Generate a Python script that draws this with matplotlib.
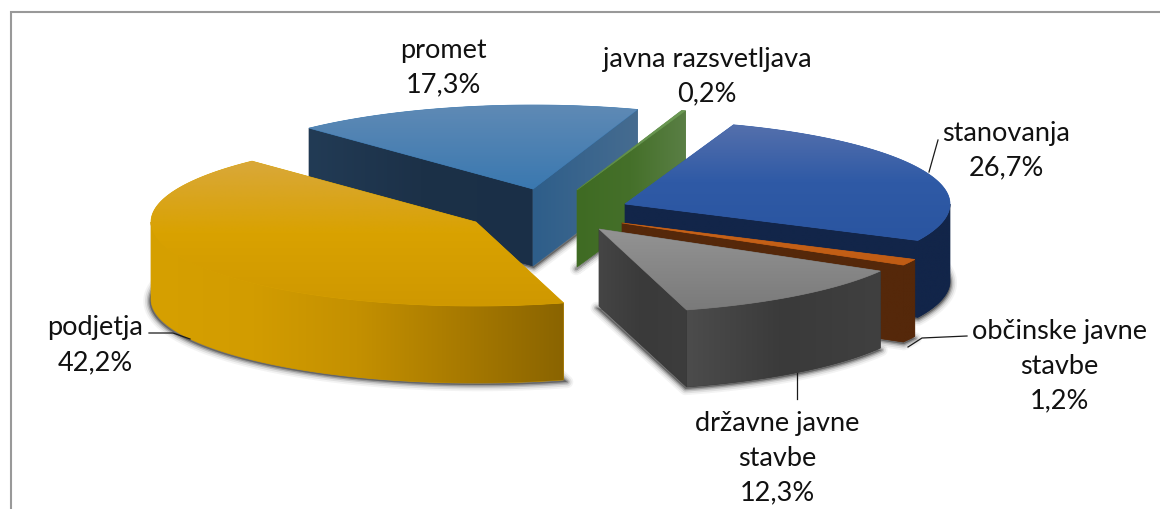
import numpy as np
import matplotlib
matplotlib.use("Agg")
import matplotlib.pyplot as plt
from matplotlib.colors import LinearSegmentedColormap
from matplotlib.patches import Polygon

# ---- data (clockwise order, as in the chart) ----
categories = ["stanovanja", "občinske javne stavbe", "državne javne stavbe",
              "podjetja", "promet", "javna razsvetljava"]
values = [26.7, 1.2, 12.3, 42.2, 17.3, 0.2]
label_lines = [["stanovanja", "26,7%"],
               ["občinske javne", "stavbe", "1,2%"],
               ["državne javne", "stavbe", "12,3%"],
               ["podjetja", "42,2%"],
               ["promet", "17,3%"],
               ["javna razsvetljava", "0,2%"]]

# ---- layout and style ----
W, H = 1160, 509
A, B, DEPTH = 325, 84, 77
START = 19.5
apex = [(625, 204), (622, 223), (599, 229), (476, 222), (533, 189), (577, 190)]
top_cols = [["#5570ac", "#2f5aa6", "#2a55a0"],
            ["#c8641a", "#c05c14"],
            ["#939393", "#7a7a7a"],
            ["#d9a83a", "#d9a200", "#cf9800"],
            ["#5f8ab5", "#3a78b0"],
            ["#6d9a55", "#5c8a45"]]
wall_cols = [["#122549", "#122549"],
             ["#55280a", "#55280a"],
             ["#4c4c4c", "#3a3a3a", "#404040"],
             ["#d6a000", "#d29c00", "#c49000", "#a87a00", "#8a6400"],
             ["#1c3148", "#1c3148"],
             ["#3f6b23", "#3f6b23"]]
face_cols = [["#122549", "#122549"],
             ["#55280a", "#55280a"],
             ["#454545", "#3a3a3a", "#3d3d3d"],
             ["#cc9600", "#8a6400"],
             ["#223b55", "#1c3148", "#1a2f47"],
             ["#3f6b23", "#45702a", "#5a7f45"]]
right_face_cols = {4: ["#2e5e8a", "#466c90"]}
draw_order = [4, 5, 0, 1, 3, 2]

label_pos = [(1006, 133), (1059, 331), (777, 423), (95, 328), (443, 50), (707, 59)]
LINE_H = 35
leaders = [[(929, 172), (938, 140)],
           [(908, 347), (922, 338), (967, 336)],
           [(797, 373), (797, 399)],
           [(149, 333), (173, 333), (190, 339)]]

fig = plt.figure(figsize=(W / 100, H / 100), dpi=100)
ax = fig.add_axes([0, 0, 1, 1])
ax.set_xlim(0, W)
ax.set_ylim(H, 0)
ax.axis("off")

z = [10]


def nz():
    z[0] += 1
    return z[0]


def gradient(poly, cols, axis):
    """Fill a polygon with a linear gradient along x ('x') or y ('y')."""
    poly = np.asarray(poly)
    x0, y0 = poly.min(axis=0)
    x1, y1 = poly.max(axis=0)
    cmap = LinearSegmentedColormap.from_list("g", cols)
    t = np.linspace(0, 1, 256)
    arr = t[None, :] if axis == "x" else t[:, None]
    zz = nz()
    # thin matching edge closes anti-aliasing seams
    ax.add_patch(Polygon(poly, closed=True, fc=cols[len(cols) // 2], ec=cols[len(cols) // 2],
                         lw=0.5, zorder=zz))
    im = ax.imshow(arr, cmap=cmap, extent=(x0, max(x1, x0 + 1), max(y1, y0 + 1), y0),
                   aspect="auto", zorder=nz(), interpolation="bilinear")
    im.set_clip_path(Polygon(poly, closed=True, transform=ax.transData))


def pt(c, th):
    r = np.radians(th)
    return np.array([c[0] + A * np.sin(r), c[1] - B * np.cos(r)])


def arc(c, a0, a1):
    n = max(int(abs(a1 - a0)), 2) + 1
    return np.array([pt(c, t) for t in np.linspace(a0, a1, n)])


def down(p):
    return np.asarray(p) + np.array([0, DEPTH])


def shadow(poly):
    zz = nz()
    poly = np.asarray(poly, float)
    cx = poly[:, 0].mean()
    poly = np.column_stack([cx + (poly[:, 0] - cx) * 1.012, poly[:, 1] + 2])
    for lw, al in [(9, .06), (6.5, .10), (4, .18), (2, .30)]:
        ax.add_patch(Polygon(poly, closed=True, fc="#3a3a3a", ec="#3a3a3a", lw=lw, alpha=al,
                             joinstyle="round", zorder=zz))


total = sum(values)
ang = START
spans = []
for v in values:
    spans.append((ang, ang + 360 * v / total))
    ang = spans[-1][1]

for i in draw_order:
    c = np.array(apex[i], float)
    a0, a1 = spans[i]
    if a0 > 360:
        a0 -= 360
        a1 -= 360
    mid = (a0 + a1) / 2
    top = np.vstack([[c], arc(c, a0, a1)])
    shadow(down(top))

    # radial faces, where they look towards the viewer
    for k, th in enumerate((a0, a1)):
        e = pt(c, th)
        d = e - c
        n = np.array([-d[1], d[0]])
        toward_mid = pt(c, mid) - c
        if i == 5:  # the sliver has almost no width; use its closing face
            toward_mid = pt(c, th + (-1 if k else 1)) - c
        if n @ toward_mid > 0:
            n = -n
        if n[1] > 0:
            cols = face_cols[i]
            if i in right_face_cols and k == 1:
                cols = right_face_cols[i]
            gradient([c, e, down(e), down(c)], cols, "x")

    # outer wall: the part of the rim facing the viewer
    lo, hi = max(a0, 90), min(a1, 270)
    if lo < hi:
        rim = arc(c, lo, hi)
        gradient(np.vstack([rim, down(rim)[::-1]]), wall_cols[i], "x")

    gradient(top, top_cols[i], "y")

# frame (open at the right and bottom of the crop)
ax.plot([11, 11, W], [H, 12, 12], color="#999999", lw=1.5, zorder=1,
        solid_joinstyle="miter")

for pts in leaders:
    p = np.array(pts)
    ax.plot(p[:, 0], p[:, 1], color="#1a1a1a", lw=0.9, zorder=200)

for lines, (x, y) in zip(label_lines, label_pos):
    for j, s in enumerate(lines):
        ax.text(x, y + j * LINE_H, s, ha="center", va="center", family="Lato",
                fontsize=19.5, color="#111111", zorder=300)

fig.savefig("out.png", dpi=100)
